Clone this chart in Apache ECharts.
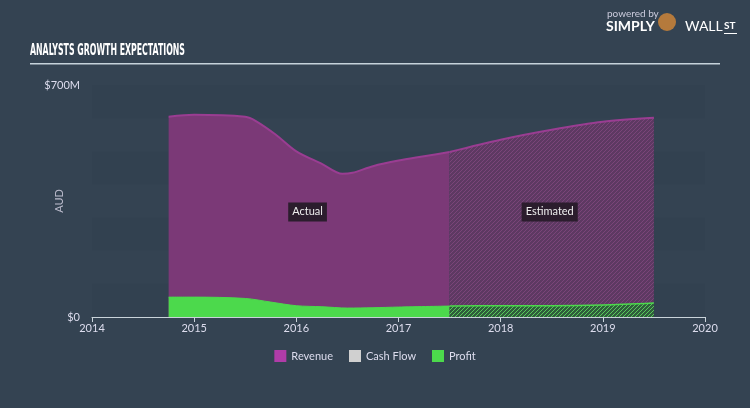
<!DOCTYPE html>
<html>
<head>
<meta charset="utf-8">
<script src="https://cdn.jsdelivr.net/npm/echarts@6/dist/echarts.min.js"></script>
<style>
  html, body { margin: 0; padding: 0; background: #344352; }
  #chart { width: 750px; height: 408px; }
</style>
</head>
<body>
<div id="chart"></div>
<script>
// valores en millones AUD, x en años
const revenueActual = [[2014.75, 604], [2015, 610], [2015.5, 604], [2015.6, 592], [2015.8, 550], [2016, 500], [2016.25, 462], [2016.45, 432], [2016.55, 435], [2016.75, 455], [2017, 472], [2017.25, 485], [2017.5, 498]]
const revenueEstimated = [[2017.5, 498], [2018, 535], [2018.5, 565], [2019, 589], [2019.5, 601]]
const profitActual = [[2014.75, 60], [2015, 60], [2015.5, 56], [2015.75, 45], [2016, 34], [2016.25, 31], [2016.5, 27], [2016.75, 28], [2017, 30], [2017.5, 33]]
const profitEstimated = [[2017.5, 33], [2018, 34], [2018.5, 34], [2019, 36], [2019.5, 42]]
const cashFlow = []
const legendNames = ['Revenue', 'Cash Flow', 'Profit']

// patron rayado para los estimados
function hatch(base, stripe) {
  const c = document.createElement('canvas')
  c.width = 4
  c.height = 4
  const ctx = c.getContext('2d')
  ctx.fillStyle = base
  ctx.fillRect(0, 0, 4, 4)
  ctx.strokeStyle = stripe
  ctx.lineWidth = 1
  ctx.beginPath()
  ctx.moveTo(0, 4)
  ctx.lineTo(4, 0)
  ctx.moveTo(-1, 1)
  ctx.lineTo(1, -1)
  ctx.moveTo(3, 5)
  ctx.lineTo(5, 3)
  ctx.stroke()
  return { image: c, repeat: 'repeat' }
}

const chart = echarts.init(document.getElementById('chart'))

const font = 'Lato'
const labelBox = {
  color: '#eee',
  fontFamily: font,
  fontSize: 11,
  backgroundColor: '#2b1d2d',
  padding: [4, 4]
}

const option = {
  backgroundColor: '#344352',
  animation: false,
  graphic: [
    {
      type: 'text', x: 30, y: 44, scaleX: 0.58,
      style: { text: 'ANALYSTS GROWTH EXPECTATIONS', fill: '#fff', font: 'bold 15px "DejaVu Sans Condensed"' }
    },
    {
      type: 'rect', left: 30, top: 63, shape: { width: 690, height: 1.5 },
      style: { fill: '#c5d2da' }
    },
    {
      type: 'text', left: 607, top: 9,
      style: { text: 'powered by', fill: '#ccd', font: '10px Lato' }
    },
    {
      type: 'text', left: 606, top: 19,
      style: { text: 'SIMPLY', fill: '#fff', font: 'bold 14px Lato' }
    },
    {
      type: 'circle', left: 658, top: 13, shape: { r: 9 },
      style: { fill: '#b57a3c' }
    },
    {
      type: 'text', left: 685, top: 19,
      style: { text: 'WALL', fill: '#fff', font: '14px Lato' }
    },
    {
      type: 'text', left: 724, top: 21,
      style: { text: 'ST', fill: '#fff', font: 'bold 10px Lato' }
    },
    {
      type: 'rect', left: 724, top: 33, shape: { width: 13, height: 1 },
      style: { fill: '#fff' }
    }
  ],
  grid: { left: 92, right: 45, top: 85, bottom: 91 },
  legend: {
    bottom: 41,
    left: 'center',
    icon: 'rect',
    itemWidth: 12,
    itemHeight: 12,
    itemGap: 16,
    textStyle: { color: '#dde', fontFamily: font, fontSize: 11 },
    data: legendNames
  },
  xAxis: {
    type: 'value',
    min: 2014,
    max: 2020,
    interval: 1,
    axisLine: { lineStyle: { color: '#c9d3da' } },
    axisTick: { length: 5, lineStyle: { color: '#c9d3da' } },
    axisLabel: { color: '#dde', fontFamily: font, fontSize: 11, margin: 6, formatter: v => String(v) },
    splitLine: { show: false }
  },
  yAxis: {
    type: 'value',
    min: 0,
    max: 700,
    interval: 100,
    name: 'AUD',
    nameLocation: 'middle',
    nameGap: 27,
    nameMoveOverlap: false,
    nameTextStyle: { color: '#bbc', fontFamily: font, fontSize: 11 },
    axisLine: { show: false },
    axisTick: { show: false },
    splitLine: { show: false },
    splitArea: { show: true, areaStyle: { color: ['rgba(0,0,0,0.02)', 'rgba(255,255,255,0.005)'] } },
    axisLabel: {
      color: '#dde',
      fontFamily: font,
      fontSize: 11,
      margin: 12,
      formatter: v => v === 0 ? '$0' : (v === 700 ? '$700M' : '')
    }
  },
  series: [
    {
      name: 'Revenue',
      type: 'line',
      data: revenueActual,
      smooth: 0.3,
      symbol: 'none',
      lineStyle: { color: '#9a3d92', width: 2 },
      itemStyle: { color: '#b03ca8' },
      areaStyle: { color: '#7b3977', opacity: 1 },
      markPoint: {
        symbol: 'rect', symbolSize: 0,
        label: Object.assign({ show: true, formatter: 'Actual' }, labelBox),
        data: [{ coord: [2016.11, 317] }]
      }
    },
    {
      name: 'Revenue',
      type: 'line',
      data: revenueEstimated,
      smooth: 0.3,
      symbol: 'none',
      lineStyle: { color: '#9a3d92', width: 2 },
      itemStyle: { color: '#b03ca8' },
      areaStyle: { color: hatch('#5d3962', '#7a4579'), opacity: 1 },
      markPoint: {
        symbol: 'rect', symbolSize: 0,
        label: Object.assign({ show: true, formatter: 'Estimated' }, labelBox),
        data: [{ coord: [2018.48, 317] }]
      }
    },
    {
      name: 'Cash Flow',
      type: 'line',
      data: cashFlow,
      symbol: 'none',
      itemStyle: { color: '#d0d0d0' }
    },
    {
      name: 'Profit',
      type: 'line',
      data: profitActual,
      smooth: 0.3,
      symbol: 'none',
      lineStyle: { color: '#4cd94c', width: 1 },
      itemStyle: { color: '#4cd94c' },
      areaStyle: { color: '#4cd94c', opacity: 1 }
    },
    {
      name: 'Profit',
      type: 'line',
      data: profitEstimated,
      smooth: 0.3,
      symbol: 'none',
      lineStyle: { color: '#4cd94c', width: 1.5 },
      itemStyle: { color: '#4cd94c' },
      areaStyle: { color: hatch('#2f5e3c', '#58c95a'), opacity: 1 }
    }
  ]
}

chart.setOption(option)
</script>
</body>
</html>
